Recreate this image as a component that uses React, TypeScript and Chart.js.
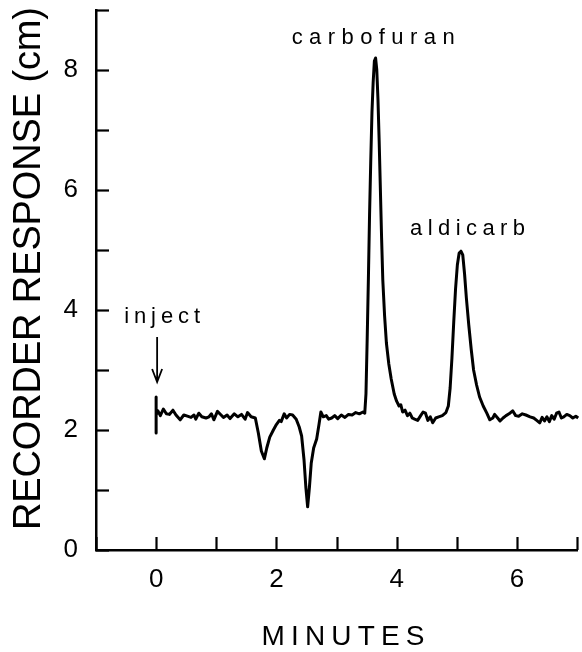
import React, { useEffect, useRef } from "react";
import { Chart, registerables } from "chart.js";

Chart.register(...registerables);

// Chromatogram trace: time (minutes) and recorder response (cm)
const timeMin = [
  0, 0, 0, 0.03, 0.07, 0.12, 0.17, 0.22, 0.28, 0.33, 0.4, 0.46, 0.52, 0.58, 0.63, 0.66, 0.71, 0.76,
  0.83, 0.88, 0.92, 0.96, 1.02, 1.08, 1.12, 1.18, 1.23, 1.3, 1.36, 1.42, 1.48, 1.52, 1.58, 1.65,
  1.7, 1.75, 1.8, 1.84, 1.89, 1.95, 2.0, 2.05, 2.08, 2.13, 2.17, 2.22, 2.27, 2.33, 2.38, 2.42,
  2.46, 2.49, 2.52, 2.55, 2.58, 2.62, 2.67, 2.71, 2.74, 2.78, 2.83, 2.87, 2.92, 2.97, 3.02, 3.08,
  3.14, 3.2, 3.26, 3.32, 3.38, 3.44, 3.47, 3.49, 3.51, 3.53, 3.55, 3.57, 3.59, 3.61, 3.63, 3.65,
  3.67, 3.69, 3.71, 3.73, 3.75, 3.77, 3.8, 3.83, 3.87, 3.91, 3.96, 4.0, 4.04, 4.07, 4.1, 4.14,
  4.18, 4.22, 4.26, 4.3, 4.35, 4.4, 4.44, 4.48, 4.52, 4.56, 4.6, 4.65, 4.7, 4.76, 4.82, 4.86,
  4.89, 4.92, 4.95, 4.98, 5.01, 5.04, 5.07, 5.1, 5.13, 5.16, 5.2, 5.24, 5.28, 5.33, 5.38, 5.44,
  5.5, 5.55, 5.6, 5.63, 5.68, 5.72, 5.77, 5.82, 5.87, 5.93, 5.98, 6.03, 6.09, 6.15, 6.22, 6.28,
  6.33, 6.38, 6.42, 6.46, 6.5, 6.54, 6.58, 6.62, 6.66, 6.7, 6.74, 6.78, 6.83, 6.88, 6.93, 6.98,
  7.02, 7.08,
];
const responseCm = [
  2.55, 1.95, 2.25, 2.32, 2.24, 2.35, 2.27, 2.26, 2.33, 2.25, 2.17, 2.25, 2.23, 2.21, 2.25, 2.18, 2.28, 2.22,
  2.2, 2.22, 2.27, 2.17, 2.31, 2.25, 2.21, 2.25, 2.19, 2.27, 2.22, 2.26, 2.18, 2.29, 2.22, 2.2,
  1.95, 1.65, 1.52, 1.7, 1.88, 2.0, 2.09, 2.16, 2.14, 2.27, 2.2, 2.26, 2.25, 2.18, 2.05, 1.9,
  1.5, 1.05, 0.72, 1.05, 1.45, 1.7, 1.85, 2.1, 2.3, 2.22, 2.24, 2.18, 2.2, 2.24, 2.19, 2.25,
  2.21, 2.26, 2.25, 2.29, 2.27, 2.3, 2.28, 2.6, 3.5, 4.5, 5.6, 6.5, 7.3, 7.8, 8.15, 8.2,
  8.0, 7.5, 6.8, 6.0, 5.2, 4.5, 3.9, 3.45, 3.1, 2.85, 2.6, 2.48, 2.4, 2.42, 2.3, 2.33,
  2.24, 2.28, 2.2, 2.18, 2.16, 2.24, 2.3, 2.28, 2.16, 2.22, 2.12, 2.2, 2.22, 2.24, 2.29, 2.4,
  2.7, 3.2, 3.8, 4.35, 4.75, 4.95, 4.98, 4.92, 4.6, 4.2, 3.75, 3.35, 3.0, 2.75, 2.55, 2.4,
  2.28, 2.17, 2.2, 2.26, 2.2, 2.15, 2.2, 2.24, 2.27, 2.32, 2.24, 2.23, 2.27, 2.25, 2.22, 2.2,
  2.16, 2.12, 2.21, 2.15, 2.22, 2.14, 2.24, 2.18, 2.28, 2.3, 2.2, 2.22, 2.26, 2.24, 2.2, 2.23,
  2.2, 2.21,
];

const xTickLabels = ["0", "2", "4", "6"];
const yTickLabels = ["0", "2", "4", "6", "8"];

const peakNames = ["carbofuran", "aldicarb"];
const peakLabelX = [3.61, 5.18];
const peakLabelY = [8.43, 5.25];

const injectLabel = "inject";
const injectTime = 0;
const injectArrowTop = 3.55;
const injectArrowBottom = 2.8;

const xTitle = "MINUTES";
const yTitle = "RECORDER RESPONSE (cm)";

const FONT = "'Liberation Sans', Arial, sans-serif";

function drawSpaced(ctx: CanvasRenderingContext2D, text: string, cx: number, y: number, targetWidth: number) {
  const chars = [...text];
  const widths = chars.map((c) => ctx.measureText(c).width);
  const natural = widths.reduce((a, b) => a + b, 0);
  const spacing = chars.length > 1 ? (targetWidth - natural) / (chars.length - 1) : 0;
  let x = cx - targetWidth / 2;
  ctx.textAlign = "left";
  chars.forEach((c, i) => {
    ctx.fillText(c, x, y);
    x += widths[i] + spacing;
  });
}

const decorPlugin = {
  id: "decor",
  afterDraw(chart: any) {
    const ctx: CanvasRenderingContext2D = chart.ctx;
    const xs = chart.scales.x;
    const ys = chart.scales.y;
    const area = chart.chartArea;
    ctx.save();
    ctx.strokeStyle = "#000";
    ctx.fillStyle = "#000";
    ctx.lineWidth = 2.2;
    ctx.lineCap = "butt";
    const tickLen = 13;
    // inward ticks
    ys.ticks.forEach((t: any) => {
      const py = Math.round(ys.getPixelForValue(t.value)) + 0.5;
      ctx.beginPath();
      ctx.moveTo(area.left, py);
      ctx.lineTo(area.left + tickLen, py);
      ctx.stroke();
    });
    xs.ticks.forEach((t: any) => {
      const px = Math.round(xs.getPixelForValue(t.value)) + 0.5;
      ctx.beginPath();
      ctx.moveTo(px, area.bottom);
      ctx.lineTo(px, area.bottom - tickLen);
      ctx.stroke();
    });

    // peak labels
    ctx.textBaseline = "alphabetic";
    ctx.font = `22px ${FONT}`;
    const peakWidths = [163, 115];
    peakNames.forEach((name, i) => {
      drawSpaced(ctx, name, xs.getPixelForValue(peakLabelX[i]), ys.getPixelForValue(peakLabelY[i]), peakWidths[i]);
    });

    // inject label and arrow
    const ax = xs.getPixelForValue(injectTime) + 1;
    drawSpaced(ctx, injectLabel, ax + 5, ys.getPixelForValue(3.78), 76);
    const aTop = ys.getPixelForValue(injectArrowTop);
    const aBot = ys.getPixelForValue(injectArrowBottom);
    ctx.lineWidth = 1.8;
    ctx.beginPath();
    ctx.moveTo(ax, aTop);
    ctx.lineTo(ax, aBot);
    ctx.moveTo(ax - 5, aBot - 13);
    ctx.lineTo(ax, aBot);
    ctx.lineTo(ax + 5, aBot - 13);
    ctx.stroke();

    // x title
    ctx.font = `28px ${FONT}`;
    drawSpaced(ctx, xTitle, 343, 645, 163);

    // y title
    ctx.save();
    ctx.translate(39.5, 268.5);
    ctx.rotate(-Math.PI / 2);
    ctx.font = `38px ${FONT}`;
    drawSpaced(ctx, yTitle, 0, 0, 523);
    ctx.restore();

    ctx.restore();
  },
};

export default function App() {
  const ref = useRef<HTMLCanvasElement | null>(null);
  useEffect(() => {
    if (!ref.current) return;
    const points = timeMin.map((t, i) => ({ x: t, y: responseCm[i] }));
    const chart = new Chart(ref.current, {
      type: "line",
      data: {
        datasets: [
          {
            data: points,
            borderColor: "#000",
            borderWidth: 3,
            pointRadius: 0,
            tension: 0,
            fill: false,
            clip: false as any,
            borderJoinStyle: "round",
          },
        ],
      },
      options: {
        animation: false,
        responsive: false,
        events: [],
        layout: { padding: { top: 10, right: 5, left: 0, bottom: 0 } },
        plugins: { legend: { display: false }, tooltip: { enabled: false }, title: { display: false } },
        scales: {
          x: {
            type: "linear",
            position: "bottom",
            min: -1,
            max: 7,
            grid: { display: false },
            border: { display: true, color: "#000", width: 2.5 },
            ticks: {
              stepSize: 1,
              autoSkip: false,
              maxRotation: 0,
              padding: 6,
              color: "#000",
              font: { family: FONT, size: 26 },
              callback: (v: any) => (xTickLabels.includes(String(v)) ? String(v) : ""),
            },
            afterFit: (s: any) => {
              s.height = 102;
              s.paddingLeft = 0;
              s.paddingRight = 0;
            },
          },
          y: {
            type: "linear",
            min: 0,
            max: 9,
            grid: { display: false },
            border: { display: true, color: "#000", width: 2.5 },
            ticks: {
              stepSize: 1,
              autoSkip: false,
              padding: 10,
              color: "#000",
              font: { family: FONT, size: 26 },
              callback: (v: any) => (yTickLabels.includes(String(v)) ? String(v) : ""),
            },
            afterFit: (s: any) => {
              s.width = 96;
              s.paddingTop = 0;
              s.paddingBottom = 0;
            },
          },
        },
      },
      plugins: [decorPlugin],
    });
    return () => chart.destroy();
  }, []);
  return (
    <div style={{ position: "absolute", left: 0, top: 0, width: 582, height: 652, background: "#fff" }}>
      <canvas ref={ref} width={582} height={652} />
    </div>
  );
}
